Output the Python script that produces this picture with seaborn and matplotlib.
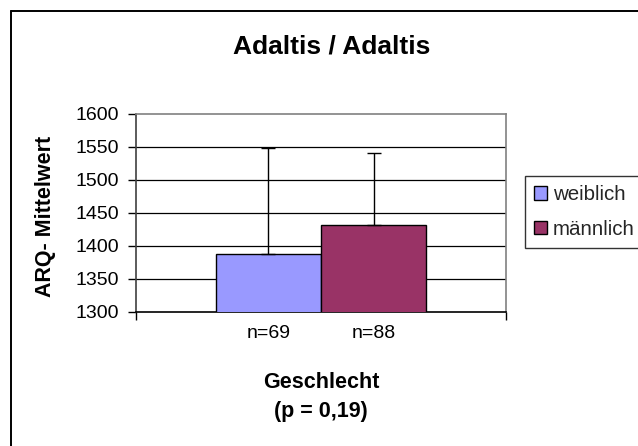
import matplotlib
matplotlib.use("Agg")
import matplotlib.pyplot as plt
import seaborn as sns
import pandas as pd
from matplotlib.lines import Line2D

# ---- data ----
groups = ["weiblich", "männlich"]
n_labels = ["n=69", "n=88"]
means = [1388, 1431]
sds = [160, 109]
y_ticks = [1300, 1350, 1400, 1450, 1500, 1550, 1600]
title = "Adaltis / Adaltis"
y_label = "ARQ- Mittelwert"
x_label_lines = ["Geschlecht", "(p = 0,19)"]
colors = ["#9999FF", "#993366"]

sns.set_theme(style="white")
plt.rcParams["font.family"] = ["Liberation Sans", "DejaVu Sans"]

W, H = 638, 446
fig = plt.figure(figsize=(W / 100, H / 100), dpi=100)
# axes in pixel coordinates: left 136, right 506, top 113.5, bottom 312
ax = fig.add_axes([136 / W, (H - 312) / H, 370 / W, (312 - 113.5) / H])

df = pd.DataFrame({"label": n_labels, "mean": means, "sex": groups})
sns.barplot(data=df, x="label", y="mean", hue="sex", hue_order=groups,
            palette=colors, saturation=1, dodge=False, width=1.0,
            edgecolor="black", linewidth=1.0, errorbar=None, ax=ax,
            legend=True, zorder=3)

# error bars (upper only)
centers = []
for p in ax.patches:
    if p.get_width() > 0 and p.get_height() > 0:
        centers.append(p.get_x() + p.get_width() / 2)
centers = sorted(centers)
ax.errorbar(centers, means, yerr=[[0] * len(sds), sds], fmt="none",
            ecolor="black", elinewidth=1.0, capsize=4.8, capthick=1.0, zorder=4)

ax.set_ylim(1300, 1600)
ax.set_xlim(-1.255, 2.255)
ax.set_yticks(y_ticks)
ax.set_yticklabels([str(v) for v in y_ticks])

# gridlines
for v in y_ticks[1:-1]:
    ax.axhline(v, color="black", lw=0.9, zorder=1)

for s in ["top", "right"]:
    ax.spines[s].set_color("#808080")
    ax.spines[s].set_linewidth(1.2)
ax.spines["left"].set_color("#404040")
ax.spines["left"].set_linewidth(1.2)
ax.spines["bottom"].set_color("black")
ax.spines["bottom"].set_linewidth(1.2)

ax.tick_params(axis="y", which="major", direction="out", length=6, width=1,
               color="black", labelsize=14, pad=6, left=True)
ax.tick_params(axis="x", which="major", length=0, labelsize=14, pad=9)
ax.set_xticks([-1.255, 2.255], minor=True)
ax.tick_params(axis="x", which="minor", direction="out", length=6, width=1,
               color="black", bottom=True)
ax.set_xlabel("")
ax.set_ylabel("")
for lab in ax.get_xticklabels():
    lab.set_color("black")
for lab in ax.get_yticklabels():
    lab.set_color("black")

def px(x, y):
    return x / W, 1 - y / H

fig.text(*px(332, 46), title, ha="center", va="center", fontsize=19,
         fontweight="bold", color="black")
fig.text(*px(46, 216), y_label, ha="center", va="center", rotation=90,
         fontsize=15.5, fontweight="bold", color="black")
fig.text(*px(321, 383), x_label_lines[0], ha="center", va="center",
         fontsize=15.5, fontweight="bold", color="black")
fig.text(*px(321, 411), x_label_lines[1], ha="center", va="center",
         fontsize=15.5, fontweight="bold", color="black")

# legend (frame extends past the right edge, as in the reference)
leg = ax.get_legend()
handles = leg.legend_handles
leg.remove()
x0, y0 = px(525, 248)
x1, y1 = px(660, 176)
leg = fig.legend(handles, groups, loc="upper left", mode="expand",
                 bbox_to_anchor=(x0, y0, x1 - x0, y1 - y0),
                 bbox_transform=fig.transFigure,
                 fontsize=14.8, frameon=True, fancybox=False, shadow=False,
                 handlelength=0.6, handleheight=0.6, handletextpad=0.3,
                 labelspacing=0.75, borderpad=0.45, borderaxespad=0)
leg.get_frame().set_edgecolor("black")
leg.get_frame().set_linewidth(1.0)
for h in leg.legend_handles:
    h.set_edgecolor("black")
    h.set_linewidth(1.0)

# chart area border (top & left visible, rest clipped)
fig.add_artist(Line2D([11 / W, 1.0], [1 - 11 / H, 1 - 11 / H],
                      transform=fig.transFigure, color="black", lw=1.4))
fig.add_artist(Line2D([11 / W, 11 / W], [0.0, 1 - 11 / H],
                      transform=fig.transFigure, color="black", lw=1.4))

fig.savefig("out.png", dpi=100)
